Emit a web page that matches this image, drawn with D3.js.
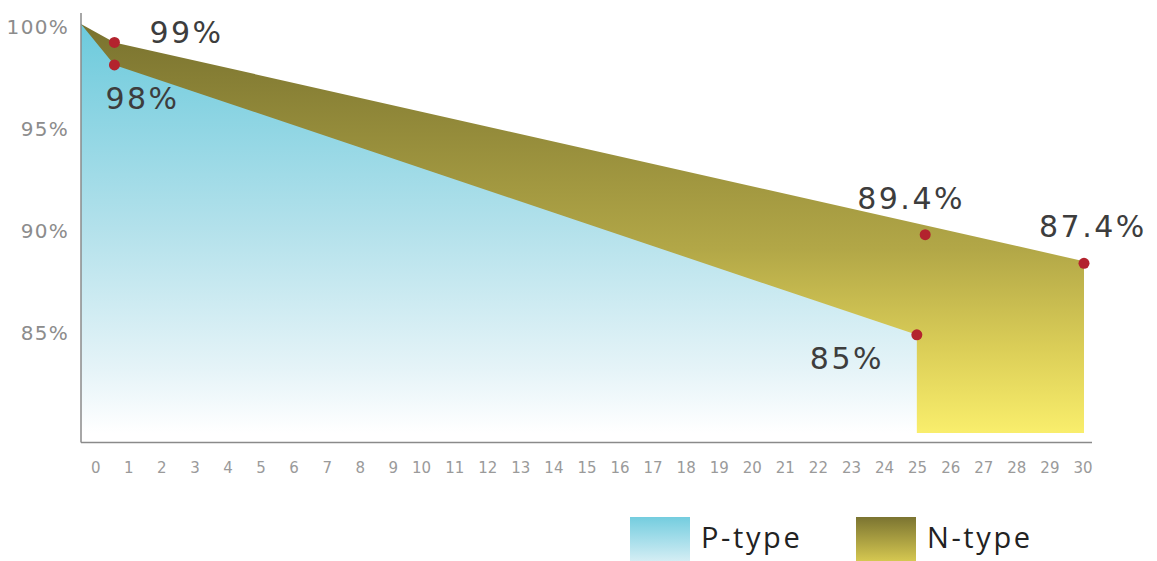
<!DOCTYPE html>
<html>
<head>
<meta charset="utf-8">
<script src="https://cdn.jsdelivr.net/npm/d3@7"></script>
<style>
  html, body { margin: 0; padding: 0; background: #ffffff; }
  svg { display: block; }
</style>
</head>
<body>
<svg id="chart" width="1157" height="561"></svg>
<script>
// ---------------- data ----------------
const xTicks = [0,1,2,3,4,5,6,7,8,9,10,11,12,13,14,15,16,17,18,19,20,21,22,23,24,25,26,27,28,29,30];
const yTicks = [100, 95, 90, 85];
const yTickLabels = ["100%", "95%", "90%", "85%"];

const pYears = [0, 1, 25];
const pValues = [100, 98, 84.8];

const nYears = [0, 1, 30];
const nValues = [100, 99.1, 88.4];

const baseValue = 80;

const markerYears  = [1, 1, 25, 25.25, 30];
const markerValues = [99.1, 98, 84.8, 89.7, 88.3];
const markerLabels = ["99%", "98%", "85%", "89.4%", "87.4%"];

const legendNames = ["P-type", "N-type"];

// ---------------- layout ----------------
const labelOffsets = [[35, 1], [-9, 44], [-107, 34], [-68, -26], [-45, -26]];

const svg = d3.select("#chart");

const x = d3.scaleLinear().domain([0, 30]).range([81, 1084]);
const y = d3.scaleLinear().domain([80, 100]).range([433, 24]);
const xLabelScale = d3.scaleLinear().domain([0, 30]).range([100, 1092]);

const defs = svg.append("defs");
function grad(id, stops, y1, y2, units) {
  const g = defs.append("linearGradient").attr("id", id)
    .attr("x1", 0).attr("x2", 0);
  if (units) {
    g.attr("gradientUnits", "userSpaceOnUse").attr("y1", y1).attr("y2", y2);
  } else {
    g.attr("y1", 0).attr("y2", 1);
  }
  stops.forEach(s => g.append("stop").attr("offset", s[0]).attr("stop-color", s[1]));
}
grad("gN", [[0, "#79722f"], [0.55, "#b2a747"], [0.8, "#dccf58"], [1, "#f9ee6c"]], y(100), y(80), true);
grad("gP", [[0, "#6ccadc"], [0.5, "#b3e1eb"], [0.85, "#e6f4f8"], [1, "#ffffff"]], y(100), y(80), true);
grad("gLP", [[0, "#74cddf"], [1, "#d8eff5"]]);
grad("gLN", [[0, "#7b7431"], [1, "#d9cb52"]]);

const nData = nYears.map((d, i) => [d, nValues[i]]);
const pData = pYears.map((d, i) => [d, pValues[i]]);

const area = d3.area()
  .x(d => x(d[0]))
  .y0(y(baseValue))
  .y1(d => y(d[1]));

svg.append("path").datum(nData).attr("d", area).attr("fill", "url(#gN)");
svg.append("path").datum(pData).attr("d", area).attr("fill", "url(#gP)");

// axis lines
svg.append("line")
  .attr("x1", x(0)).attr("x2", x(0))
  .attr("y1", y(100) - 11).attr("y2", 442.5)
  .attr("stroke", "#8a8a8a").attr("stroke-width", 1.5);
svg.append("line")
  .attr("x1", x(0)).attr("x2", xLabelScale(30))
  .attr("y1", 442.5).attr("y2", 442.5)
  .attr("stroke", "#8a8a8a").attr("stroke-width", 1.5);

// y tick labels
const yAxis = svg.append("g")
  .attr("transform", "translate(69,0)")
  .call(d3.axisLeft(y).tickValues(yTicks).tickSize(0).tickPadding(0)
    .tickFormat((d, i) => yTickLabels[i]));
yAxis.select(".domain").remove();
yAxis.selectAll("text")
  .attr("dy", "0.45em")
  .style("font-family", "DejaVu Sans")
  .style("font-size", "20px")
  .style("letter-spacing", "1.3px")
  .attr("fill", "#8c8c8c");

// x tick labels
const xAxis = svg.append("g")
  .attr("transform", "translate(0,462)")
  .call(d3.axisBottom(xLabelScale).tickValues(xTicks).tickSize(0).tickPadding(0)
    .tickFormat(d => String(d)));
xAxis.select(".domain").remove();
xAxis.selectAll("text")
  .attr("text-anchor", "end")
  .style("font-family", "DejaVu Sans")
  .style("font-size", "15px")
  .attr("fill", "#9a9a9a");

// markers
svg.selectAll("circle.m").data(markerYears).enter().append("circle")
  .attr("class", "m")
  .attr("cx", (d) => x(d))
  .attr("cy", (d, i) => y(markerValues[i]))
  .attr("r", 5.5)
  .attr("fill", "#b3232e");

svg.selectAll("text.lbl").data(markerLabels).enter().append("text")
  .attr("class", "lbl")
  .attr("x", (d, i) => x(markerYears[i]) + labelOffsets[i][0])
  .attr("y", (d, i) => y(markerValues[i]) + labelOffsets[i][1])
  .text(d => d)
  .style("font-family", "DejaVu Sans")
  .style("font-size", "30px")
  .style("letter-spacing", "2.5px")
  .attr("fill", "#3d3d3d");

// legend
const legendX = [630, 856];
const legendFills = ["url(#gLP)", "url(#gLN)"];
const lg = svg.selectAll("g.lg").data(legendNames).enter().append("g")
  .attr("class", "lg")
  .attr("transform", (d, i) => `translate(${legendX[i]},517)`);
lg.append("rect").attr("width", 60).attr("height", 46)
  .attr("fill", (d, i) => legendFills[i]);
lg.append("text").attr("x", 71).attr("y", 31)
  .text(d => d)
  .style("font-family", "Open Sans")
  .style("font-size", "29px")
  .style("letter-spacing", "2.6px")
  .attr("fill", "#222");
</script>
</body>
</html>
